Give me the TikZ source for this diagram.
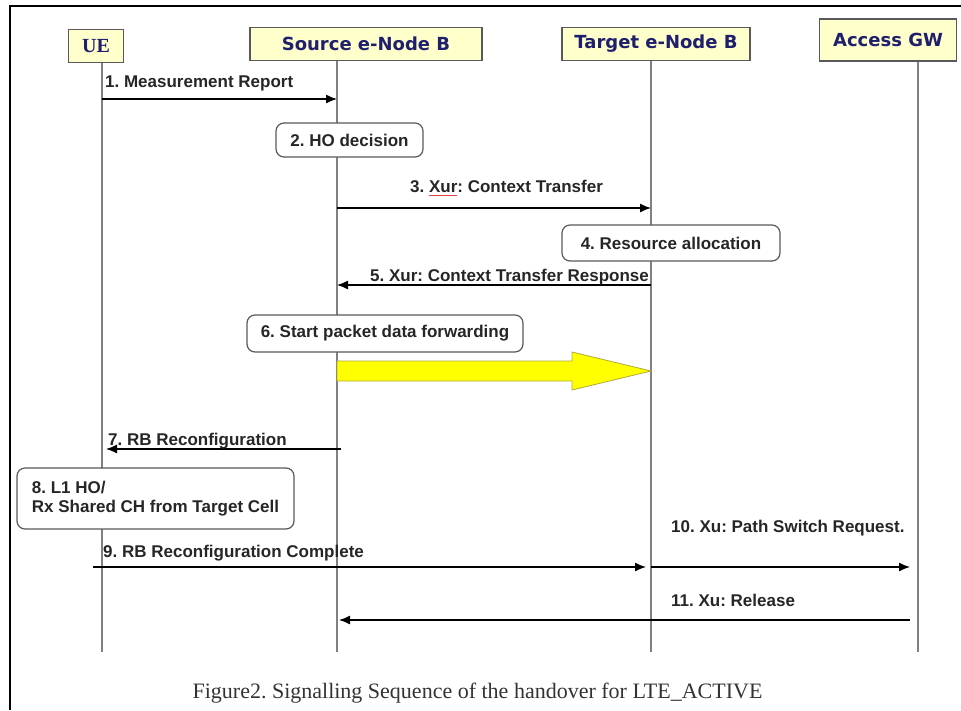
\documentclass[tikz,border=0pt]{standalone}
\usepackage{fontspec}
\setmainfont{Liberation Serif}
\setsansfont{Liberation Sans}
\newfontfamily\headfont{DejaVu Sans}
\usepackage{xcolor}
\usetikzlibrary{arrows.meta, positioning, calc}
\definecolor{actorfill}{HTML}{FFFFCC}
\definecolor{actortext}{HTML}{1F1F6E}
\definecolor{fwdyellow}{HTML}{FFFF00}
\definecolor{squigred}{HTML}{E04040}
\newcommand{\squig}[1]{\setbox0\hbox{#1}\rlap{\textcolor{squigred}{\rule[-2.5pt]{\wd0}{0.9pt}}}#1}
\tikzset{
	actor/.style={rectangle, draw=black!65, line width=1.8pt, fill=actorfill, text=actortext, font=\headfont\bfseries\fontsize{18}{22}\selectfont, inner sep=0pt},
	note/.style={rectangle, draw=black!65, line width=1.2pt, rounded corners=8pt, fill=white, text=black!85, font=\sffamily\bfseries\fontsize{17}{19.5}\selectfont, inner sep=0pt},
	lbl/.style={anchor=west, inner sep=0pt, text=black!85, font=\sffamily\bfseries\fontsize{17}{19.5}\selectfont},
	life/.style={draw=black!50, line width=1.5pt},
	msg/.style={draw=black, line width=1.3pt, -{Latex[length=11pt, width=9pt]}}
}
\frenchspacing

\begin{document}
\begin{tikzpicture}[x=1pt, y=-1pt]
	\useasboundingbox (0,0) rectangle (961,710);
	% Frame
	\draw[line width=2.5pt] (10,710) -- (10,6) -- (961,6);
	
	% Entities
	\node[actor, font=\rmfamily\bfseries\fontsize{20}{24}\selectfont, minimum width=55pt, minimum height=33pt] (ue) at (96,46) {UE};
	\node[actor, minimum width=232pt, minimum height=33pt] (src) at (366,44) {Source e-Node B};
	\node[actor, minimum width=188pt, minimum height=33pt] (tgt) at (656,44) {Target e-Node B};
	\node[actor, minimum width=137pt, minimum height=42pt] (gw) at (888,40) {Access GW};
	
	% Lifelines
	\coordinate (ueL) at (102,0);
	\coordinate (srcL) at (337,0);
	\coordinate (tgtL) at (651,0);
	\coordinate (gwL) at (918,0);
	\coordinate (bot) at (0,652);
	\draw[life] (ue.south -| ueL) -- (bot -| ueL);
	\draw[life] (src.south -| srcL) -- (bot -| srcL);
	\draw[life] (tgt.south -| tgtL) -- (bot -| tgtL);
	\draw[life] (gw.south -| gwL) -- (bot -| gwL);
	
	% Message heights
	\coordinate (m1) at (0,99);
	\coordinate (m3) at (0,208);
	\coordinate (m5) at (0,285);
	\coordinate (fwd) at (0,371);
	\coordinate (m7) at (0,449);
	\coordinate (m9) at (0,567);
	\coordinate (m11) at (0,620);
	
	% Messages
	\path[msg] (m1 -| ueL) -- (m1 -| srcL);
	\path[msg] (m3 -| srcL) -- (m3 -| tgtL);
	\path[msg] (m5 -| tgtL) -- (m5 -| srcL);
	\path[msg, shorten >=4pt] ([xshift=4pt]m7 -| srcL) -- (m7 -| ueL);
	\path[msg, shorten >=5pt] ([xshift=-9pt]m9 -| ueL) -- (m9 -| tgtL);
	\path[msg, shorten >=8pt] (m9 -| tgtL) -- (m9 -| gwL);
	\path[msg, shorten >=2pt] ([xshift=-8pt]m11 -| gwL) -- (m11 -| srcL);
	
	% Data forwarding arrow
	\filldraw[fill=fwdyellow, draw=black!35!yellow, line width=0.8pt]
		($(fwd -| srcL)+(0,-10)$) -- ($(fwd -| tgtL)+(-79,-10)$) -- ++(0,-9) -- (fwd -| tgtL)
		-- ($(fwd -| tgtL)+(-79,19)$) -- ++(0,-9) -- ($(fwd -| srcL)+(0,10)$) -- cycle;
	
	% Steps
	\node[note, minimum width=147pt, minimum height=34pt] (hodec) at (349.5,140) {2. HO decision};
	\node[note, minimum width=218pt, minimum height=36pt] (resalloc) at (671,243) {4. Resource allocation};
	\node[note, minimum width=276pt, minimum height=37pt] (fwdstart) at (385,333.5) {6. Start packet data forwarding};
	\node[note, minimum width=277pt, minimum height=61pt, align=left] (lonehO) at (155.5,498.5) {8. L1 HO/\\Rx Shared CH from Target Cell};
	
	% Message labels
	\node[lbl] (msgone) at (105,83) {1. Measurement Report};
	\node[lbl] (msgthree) at (410,188) {3. \squig{Xur}: Context Transfer};
	\node[lbl] (msgfive) at (370,277) {5. Xur: Context Transfer Response};
	\node[lbl] (msgseven) at (108,441) {7. RB Reconfiguration};
	\node[lbl] (msgnine) at (103,553) {9. RB Reconfiguration Complete};
	\node[lbl] (msgten) at (671,528) {10. Xu: Path Switch Request.};
	\node[lbl] (msgeleven) at (671,600) {11. Xu: Release};
	
	% Caption
	\node[font=\fontsize{22}{26}\selectfont, text=black!80] (caption) at (477.5,693) {Figure2. Signalling Sequence of the handover for LTE\_ACTIVE};
\end{tikzpicture}
\end{document}
